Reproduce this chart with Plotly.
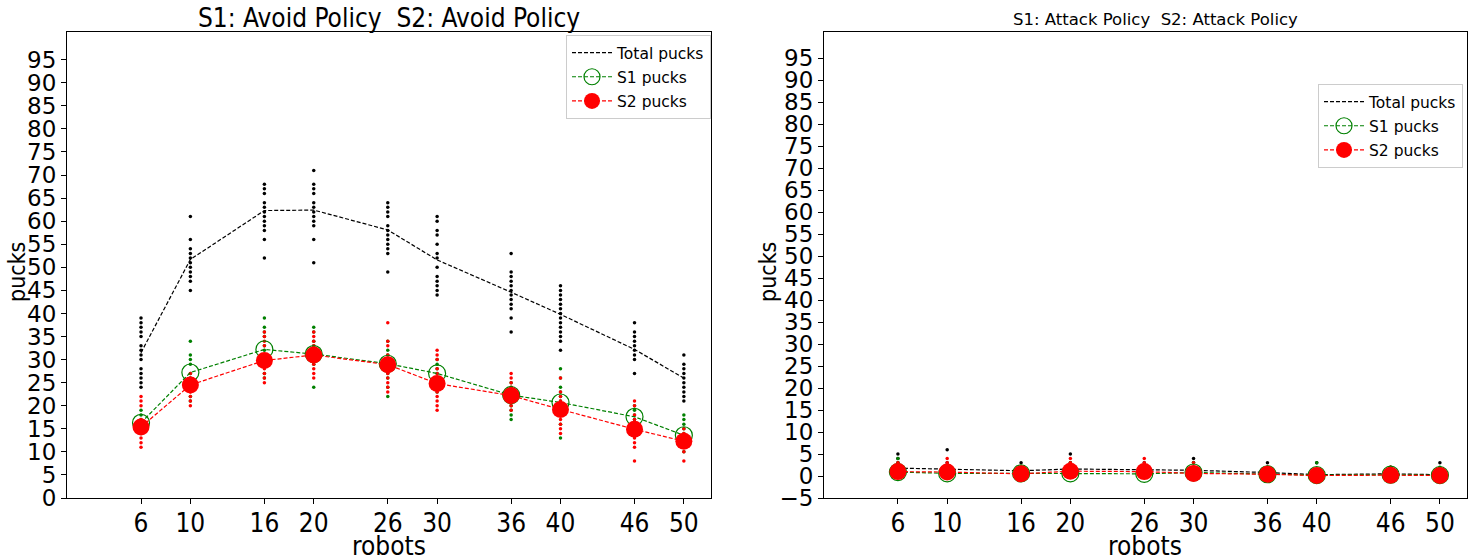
import plotly.graph_objects as go

W, H = 1480, 560

robots = [6, 10, 16, 20, 26, 30, 36, 40, 46, 50]
y_ticks_left = list(range(0, 100, 5))
y_ticks_right = list(range(-5, 100, 5))

# ---- Avoid / Avoid ----
avoid_total_mean = [31.5, 51.7, 62.3, 62.4, 58.1, 51.6, 44.6, 39.8, 32.2, 26.0]
avoid_s1_mean = [16.3, 27.2, 32.2, 31.2, 29.1, 27.0, 22.3, 20.7, 17.6, 13.6]
avoid_s2_mean = [15.4, 24.5, 29.8, 31.0, 28.9, 24.8, 22.2, 19.2, 14.9, 12.3]

avoid_total_trials = [
    [39, 38, 37, 36, 35, 33, 32, 31, 30, 28, 27, 26, 25, 24],
    [61, 56, 54, 53, 52, 51, 50, 49, 48, 47, 45],
    [68, 67, 66, 64, 63, 62, 61, 60, 59, 58, 56, 52],
    [71, 68, 67, 66, 64, 63, 62, 61, 60, 59, 56, 51],
    [64, 63, 62, 61, 59, 58, 57, 56, 55, 54, 53, 49],
    [61, 60, 58, 57, 55, 53, 52, 50, 48, 47, 46, 45, 44],
    [53, 49, 48, 47, 46, 45, 44, 43, 42, 41, 39, 36],
    [46, 45, 44, 43, 42, 41, 40, 39, 38, 37, 36, 35, 34, 32],
    [38, 36, 35, 34, 33, 32, 31, 30, 27],
    [31, 29, 28, 27, 26, 25, 24, 23, 22, 21],
]
avoid_s1_trials = [
    [19, 18, 17, 16, 15, 14],
    [34, 31, 30, 29, 27, 26, 25, 22, 21],
    [39, 37, 36, 35, 33, 32, 31, 30, 27, 26],
    [37, 36, 34, 33, 32, 31, 30, 29, 24],
    [34, 32, 31, 30, 29, 28, 27, 26, 24, 22],
    [30, 29, 28, 27, 26, 25, 23],
    [25, 24, 23, 22, 21, 20, 19, 18, 17],
    [28, 26, 24, 23, 22, 21, 20, 19, 18, 16, 13],
    [20, 19, 18, 17, 16, 15, 14],
    [18, 17, 16, 15, 14, 13, 12, 10],
]
avoid_s2_trials = [
    [22, 21, 20, 17, 16, 15, 14, 13, 12, 11],
    [27, 26, 25, 24, 23, 22, 21, 20],
    [36, 35, 34, 33, 31, 30, 29, 28, 27, 26, 25],
    [36, 35, 34, 33, 32, 31, 30, 29, 28, 27, 26],
    [38, 34, 33, 31, 30, 29, 28, 27, 26, 25, 24, 23],
    [32, 31, 30, 28, 27, 26, 25, 24, 23, 22, 21, 20, 19],
    [27, 26, 25, 24, 23, 22, 21, 20, 19],
    [26, 23, 22, 21, 20, 19, 18, 17, 16, 15, 14],
    [21, 20, 18, 17, 16, 15, 14, 13, 12, 11, 8],
    [15, 14, 13, 12, 11, 10, 8],
]

# ---- Attack / Attack ----
attack_total_mean = [1.8, 1.5, 1.2, 1.6, 1.5, 1.3, 0.8, 0.3, 0.5, 0.3]
attack_s1_mean = [0.9, 0.6, 0.6, 0.6, 0.5, 0.8, 0.4, 0.2, 0.3, 0.2]
attack_s2_mean = [1.0, 0.9, 0.5, 1.1, 1.0, 0.6, 0.4, 0.1, 0.2, 0.1]

attack_total_trials = [
    [5, 4, 3, 2, 1, 0], [6, 3, 2, 1, 0], [3, 2, 1, 0], [5, 3, 2, 1, 0], [3, 2, 1, 0],
    [4, 3, 2, 1, 0], [3, 2, 1, 0], [3, 1, 0], [2, 1, 0], [3, 1, 0],
]
attack_s1_trials = [
    [4, 3, 2, 1, 0], [2, 1, 0], [2, 1, 0], [3, 2, 1, 0], [2, 1, 0],
    [3, 2, 1, 0], [2, 1, 0], [3, 1, 0], [2, 1, 0], [2, 1, 0],
]
attack_s2_trials = [
    [3, 2, 1, 0], [4, 3, 2, 1, 0], [2, 1, 0], [4, 3, 2, 1, 0], [4, 3, 2, 1, 0],
    [3, 2, 1, 0], [2, 1, 0], [1, 0], [2, 1, 0], [1, 0],
]

FONT = "DejaVu Sans"
COND = "DejaVu Sans Condensed, DejaVu Sans"
GREEN = "#008000"
RED = "#ff0000"
DASH = "4px,2px"

fig = go.Figure()


def add_panel(xa, ya, legend, tm, s1m, s2m, tt, s1t, s2t):
    for trials, color in ((tt, "black"), (s1t, GREEN), (s2t, RED)):
        xs = [r for r, t in zip(robots, trials) for _ in t]
        ys = [v for t in trials for v in t]
        fig.add_trace(go.Scatter(x=xs, y=ys, mode="markers", xaxis=xa, yaxis=ya,
                                 marker=dict(size=3.5, color=color), showlegend=False,
                                 hoverinfo="skip"))
    fig.add_trace(go.Scatter(x=robots, y=tm, mode="lines", name="Total pucks",
                             xaxis=xa, yaxis=ya, legend=legend, legendgroup=legend + "t",
                             line=dict(color="black", dash=DASH, width=1.2)))
    fig.add_trace(go.Scatter(x=robots, y=s1m, mode="lines+markers", name="S1 pucks",
                             xaxis=xa, yaxis=ya, legend=legend, legendgroup=legend + "a",
                             line=dict(color=GREEN, dash=DASH, width=1.2),
                             marker=dict(symbol="circle-open", size=17, color=GREEN,
                                         line=dict(width=1.2, color=GREEN))))
    fig.add_trace(go.Scatter(x=robots, y=s2m, mode="lines+markers", name="S2 pucks",
                             xaxis=xa, yaxis=ya, legend=legend, legendgroup=legend + "b",
                             line=dict(color=RED, dash=DASH, width=1.2),
                             marker=dict(symbol="circle", size=17, color=RED)))


add_panel("x", "y", "legend", avoid_total_mean, avoid_s1_mean, avoid_s2_mean,
          avoid_total_trials, avoid_s1_trials, avoid_s2_trials)
add_panel("x2", "y2", "legend2", attack_total_mean, attack_s1_mean, attack_s2_mean,
          attack_total_trials, attack_s1_trials, attack_s2_trials)

L1, R1 = 67, 711
L2, R2 = 824, 1467
TOP, BOT = 32, 498

xcommon = dict(range=[0, 52.2], tickvals=robots, ticktext=[str(r) for r in robots],
               ticks="outside", ticklen=5, tickwidth=1, tickcolor="black",
               ticklabelstandoff=-3,
               showline=True, linecolor="black", linewidth=1, mirror=True,
               showgrid=False, zeroline=False, automargin=False,
               tickfont=dict(family=COND, size=26, color="black"))
ycommon = dict(ticks="outside", ticklen=5, tickwidth=1, tickcolor="black",
               showline=True, linecolor="black", linewidth=1, mirror=True,
               showgrid=False, zeroline=False, automargin=False,
               tickfont=dict(family=FONT, size=23, color="black"))

ydom = [(H - BOT) / H, (H - TOP) / H]

legcommon = dict(xanchor="right", yanchor="top", bordercolor="#cccccc", borderwidth=1,
                 bgcolor="rgba(255,255,255,0.8)", tracegroupgap=1, itemwidth=40,
                 font=dict(family=FONT, size=15.5, color="black"))

fig.update_layout(
    width=W, height=H, autosize=False,
    margin=dict(l=0, r=0, t=0, b=0, pad=0, autoexpand=False),
    paper_bgcolor="white", plot_bgcolor="white",
    xaxis=dict(domain=[L1 / W, R1 / W], anchor="y", **xcommon),
    yaxis=dict(domain=ydom, anchor="x", range=[0, 101], tickvals=y_ticks_left, **ycommon),
    xaxis2=dict(domain=[L2 / W, R2 / W], anchor="y2", **xcommon),
    yaxis2=dict(domain=ydom, anchor="x2", range=[-5, 101], tickvals=y_ticks_right, **ycommon),
    legend=dict(x=711 / W, y=1 - 35 / H, **legcommon),
    legend2=dict(x=1463 / W, y=1 - 84 / H, **legcommon),
    showlegend=True,
)

ann = []
ann.append(dict(text="S1: Avoid Policy  S2: Avoid Policy", x=389 / W, y=1 - 18 / H,
                xref="paper", yref="paper", showarrow=False, xanchor="center", yanchor="middle",
                font=dict(family=COND, size=26, color="black")))
ann.append(dict(text="S1: Attack Policy  S2: Attack Policy", x=1155 / W, y=1 - 20 / H,
                xref="paper", yref="paper", showarrow=False, xanchor="center", yanchor="middle",
                font=dict(family=FONT, size=16.5, color="black")))
for xc in (389, 1145):
    ann.append(dict(text="robots", x=xc / W, y=1 - 546 / H, xref="paper", yref="paper",
                    showarrow=False, xanchor="center", yanchor="middle",
                    font=dict(family=COND, size=26, color="black")))
for xc in (17, 768):
    ann.append(dict(text="pucks", x=xc / W, y=1 - 272 / H, xref="paper", yref="paper",
                    showarrow=False, xanchor="center", yanchor="middle", textangle=-90,
                    font=dict(family=COND, size=23, color="black")))
fig.update_layout(annotations=ann)

fig.write_html("out.html", config={"responsive": False},
               post_script="document.body.style.margin='0';document.body.style.overflow='hidden';")
